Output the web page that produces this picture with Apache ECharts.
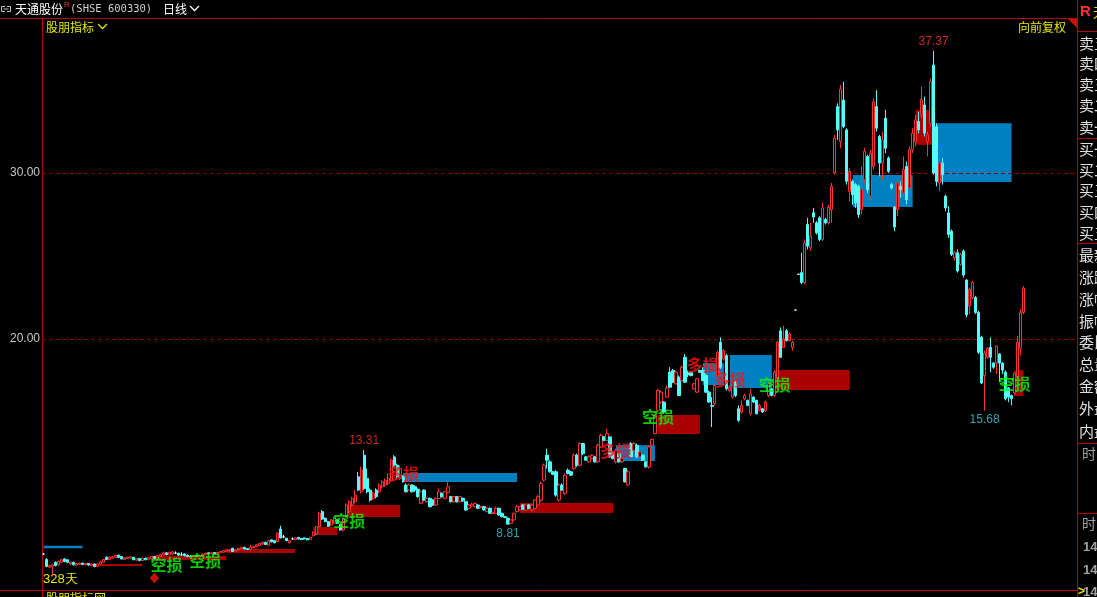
<!DOCTYPE html>
<html><head><meta charset="utf-8">
<script src="https://cdn.jsdelivr.net/npm/echarts@6/dist/echarts.min.js"></script>
<style>html,body{margin:0;padding:0;background:#000;overflow:hidden}#c{width:1097px;height:597px}</style>
</head><body><div id="c"></div>
<script>
// ---- data (open, close, low, high) ----
const candles = [
[7.05,7.05,7.0,7.1],[6.72,6.30,6.25,6.8],[6.25,6.35,6.2,6.4],[6.3,6.4,5.8,6.45],[6.55,6.35,6.3,6.6],
[6.4,6.6,6.35,6.65],[6.55,6.7,6.5,6.75],[6.75,6.6,6.55,6.8],[6.7,6.55,6.5,6.72],[6.45,6.55,6.4,6.6],
[6.55,6.4,6.35,6.58],[6.38,6.48,6.35,6.52],[6.42,6.5,6.4,6.55],[6.5,6.42,6.38,6.52],[6.4,6.48,6.36,6.5],
[6.48,6.38,6.35,6.5],[6.35,6.45,6.32,6.48],[6.45,6.3,6.25,6.47],[6.3,6.45,6.28,6.48],[6.45,6.58,6.42,6.62],
[6.55,6.72,6.5,6.75],[6.85,6.72,6.7,6.9],[6.72,6.86,6.7,6.9],[6.8,6.88,6.76,6.92],[6.85,6.95,6.82,7.0],
[6.98,6.85,6.82,7.0],[6.9,6.75,6.72,6.92],[6.72,6.82,6.7,6.85],[6.78,6.85,6.75,6.88],[6.8,6.88,6.78,6.92],
[6.85,6.7,6.68,6.88],[6.68,6.78,6.65,6.8],[6.78,6.65,6.62,6.8],[6.65,6.8,6.62,6.82],[6.8,6.7,6.68,6.83],
[6.7,6.82,6.68,6.85],[6.78,6.9,6.75,6.92],[6.9,6.78,6.75,6.93],[6.8,6.95,6.78,6.98],[6.9,7.0,6.88,7.05],
[6.98,7.12,6.95,7.2],[7.12,7.0,6.98,7.15],[7.0,7.15,6.98,7.18],[7.05,7.18,7.0,7.22],[7.1,7.1,7.05,7.2],
[7.1,6.98,6.95,7.12],[7.0,7.0,6.95,7.15],[7.05,6.95,6.9,7.08],[6.98,6.9,6.85,7.0],[6.92,6.88,6.85,6.98],
[6.9,6.95,6.85,6.98],[6.95,6.9,6.86,6.98],[6.9,6.96,6.87,7.0],[6.96,7.05,6.94,7.08],[7.0,7.1,6.98,7.12],
[7.12,7.05,7.02,7.15],[7.08,7.12,7.05,7.15],[7.14,7.06,7.03,7.16],[7.06,7.14,7.04,7.18],[7.12,7.2,7.1,7.22],
[7.15,7.25,7.12,7.3],[7.2,7.3,7.18,7.33],[7.25,7.3,7.2,7.35],[7.4,7.2,7.18,7.42],[7.22,7.3,7.2,7.35],
[7.3,7.38,7.25,7.42],[7.35,7.45,7.32,7.48],[7.45,7.35,7.32,7.48],[7.38,7.32,7.28,7.4],[7.3,7.45,7.28,7.6],
[7.42,7.5,7.4,7.55],[7.5,7.6,7.45,7.65],[7.55,7.68,7.52,7.72],[7.65,7.75,7.6,7.8],[7.75,7.62,7.58,7.78],
[7.58,7.85,7.55,7.9],[7.9,7.78,7.75,7.92],[7.85,7.72,7.7,7.88],[7.8,8.3,7.78,8.35],[8.55,8.02,7.98,8.75],
[8.08,8.08,8.0,8.2],[8.0,7.85,7.82,8.02],[7.72,7.85,7.68,7.88],[7.96,7.96,7.9,8.05],[7.9,8.02,7.88,8.05],
[8.05,7.95,7.92,8.08],[7.98,7.92,7.88,8.02],[8.02,7.95,7.9,8.05],[7.98,7.9,7.88,8.0],[7.92,8.05,7.9,8.08],
[8.15,8.35,8.1,8.4],[8.25,8.7,8.2,8.75],[8.7,9.5,8.65,9.6],[9.6,9.15,9.1,9.7],[9.2,9.0,8.95,9.25],
[9.0,8.72,8.68,9.05],[8.8,9.1,8.75,9.15],[8.9,9.2,8.85,9.3],[9.1,8.9,8.85,9.15],[8.82,8.5,8.45,8.85],
[8.5,9.2,8.4,9.25],[9.3,10.0,9.2,10.1],[9.6,10.2,9.5,10.3],[10.0,10.4,9.9,10.5],[10.2,10.6,10.1,10.9],
[11.7,10.9,10.85,12.0],[10.8,12.1,10.7,12.3],[13.0,11.0,10.9,13.31],[11.6,10.8,10.7,12.2],[10.9,10.3,10.2,11.0],
[10.4,10.7,10.3,10.8],[10.9,10.5,10.4,11.0],[10.8,11.2,10.7,11.3],[11.1,11.4,11.0,11.5],[11.2,11.5,11.1,11.6],
[11.3,11.6,11.2,11.9],[11.5,12.7,11.4,12.8],[12.9,12.4,12.3,13.0],[12.4,11.7,11.6,12.5],[11.6,12.2,11.5,12.4],
[11.75,11.4,11.35,11.8],[11.2,10.8,10.75,11.3],[10.9,11.2,10.85,11.3],[11.2,10.8,10.75,11.25],[11.1,10.9,10.8,11.2],
[10.95,10.5,10.45,11.0],[10.1,10.8,10.05,10.85],[10.9,10.3,10.25,10.95],[10.2,10.4,10.15,10.45],[10.4,9.9,9.85,10.45],
[10.3,10.0,9.95,10.35],[10.0,10.4,9.95,10.45],[10.4,10.8,10.35,11.0],[10.7,10.5,10.45,10.75],[10.4,10.8,10.35,10.85],
[10.75,11.1,10.7,11.4],[10.5,10.2,10.15,10.55],[10.2,10.5,10.15,10.55],[10.5,10.2,10.15,10.55],[10.2,10.5,10.15,10.55],
[10.4,10.25,10.2,10.45],[10.2,9.7,9.65,10.25],[9.8,10.0,9.75,10.05],[9.95,10.05,9.9,10.15],[9.9,10.1,9.85,10.15],
[10.0,9.8,9.75,10.05],[9.85,9.9,9.8,9.95],[9.9,9.7,9.65,9.95],[9.6,9.8,9.55,9.85],[9.8,9.5,9.45,9.85],
[9.5,9.55,9.45,9.6],[9.5,9.8,9.45,9.9],[9.8,9.4,9.35,9.85],[9.5,9.3,9.25,9.55],[9.3,9.25,9.2,9.35],
[9.2,8.85,8.81,9.25],[8.9,9.1,8.85,9.15],[9.1,9.5,9.05,9.55],[9.6,9.9,9.55,10.0],[9.7,9.9,9.65,9.95],
[10.0,9.75,9.7,10.05],[9.7,10.0,9.65,10.05],[10.0,9.8,9.75,10.05],[9.7,10.0,9.6,10.05],[9.8,10.3,9.75,10.35],
[10.0,10.5,9.95,10.6],[10.3,11.3,10.2,11.4],[11.5,12.4,11.4,12.5],[13.0,12.7,12.2,13.4],[12.6,12.0,11.95,12.7],
[12.0,11.85,11.8,12.05],[12.0,10.6,10.5,12.1],[10.3,11.2,10.2,11.3],[11.2,10.9,10.85,11.3],[10.7,11.8,10.6,11.9],
[12.1,11.9,11.85,12.2],[12.0,11.8,11.75,12.05],[12.2,13.0,12.1,13.1],[13.0,12.4,12.3,13.1],[12.4,13.7,12.35,13.8],
[13.7,13.1,13.0,13.75],[12.9,12.7,12.65,12.95],[12.6,12.9,12.55,13.0],[12.8,13.0,12.75,13.05],[12.9,12.6,12.55,12.95],
[12.6,13.6,12.55,13.7],[13.5,14.2,13.45,14.3],[14.1,13.9,13.85,14.15],[13.9,14.3,13.85,14.6],[14.1,12.9,12.85,14.15],
[13.2,12.8,12.75,13.25],[12.6,13.3,12.5,13.4],[13.1,12.6,12.55,13.15],[12.6,12.8,12.55,12.85],[12.2,11.4,11.35,12.25],
[11.2,12.0,11.15,12.1],[13.7,12.9,12.85,13.8],[13.3,13.7,13.25,13.8],[13.6,12.9,12.85,13.7],[12.9,13.2,12.85,13.25],
[13.0,12.7,12.65,13.05],[12.6,12.3,12.25,12.65],[12.3,13.5,12.2,13.6],[13.6,13.95,13.55,14.0],[14.3,15.4,14.25,15.5],
[15.7,16.9,15.6,17.0],[16.2,16.8,16.1,16.9],[16.2,15.6,15.5,16.25],[16.5,17.05,16.45,17.2],[18.0,17.1,17.05,18.3],
[18.1,17.4,17.35,18.2],[17.3,18.0,17.25,18.1],[17.7,16.6,16.55,17.8],[17.5,18.3,17.45,18.4],[18.9,17.4,17.35,19.1],
[18.0,17.85,17.7,18.1],[18.0,17.8,17.75,18.05],[17.0,17.3,16.95,17.35],[16.8,17.6,16.75,17.65],[18.1,18.0,17.95,18.15],
[18.1,17.5,17.45,18.3],[17.8,16.8,16.75,17.9],[16.8,16.2,16.15,16.9],[16.0,15.95,14.7,16.5],[16.1,17.2,16.0,17.3],
[17.8,19.2,17.7,19.3],[19.8,18.3,18.2,20.1],[18.8,19.3,18.7,19.4],[19.0,17.0,16.9,19.1],[16.9,17.1,16.8,17.2],
[16.5,17.3,16.4,17.4],[17.4,16.6,16.5,17.5],[15.8,15.1,15.0,16.0],[15.6,16.0,15.5,16.3],[16.4,16.6,16.3,16.7],
[16.3,16.0,15.95,16.35],[15.5,16.7,15.4,17.0],[16.5,16.2,16.15,16.55],[16.3,15.5,15.45,16.35],[15.7,16.0,15.65,16.1],
[15.8,15.6,15.55,15.85],[15.7,16.2,15.6,16.3],[16.6,17.3,16.5,17.4],[17.0,16.6,16.55,17.05],[16.6,18.0,16.5,18.1],
[17.6,19.8,17.5,19.9],[20.5,18.9,18.85,20.7],[19.5,20.0,19.45,20.8],[20.5,19.9,19.85,20.6],[19.9,20.3,19.85,20.4],
[19.5,19.8,19.3,19.9],[21.75,21.75,21.75,21.75],[23.9,23.9,23.9,23.9],[24.0,23.4,23.3,25.2],[23.4,25.8,23.3,26.0],
[26.9,25.6,25.4,27.3],[25.5,26.2,25.3,27.0],[27.6,27.35,27.0,27.9],[27.0,26.4,26.3,27.1],[27.3,26.0,25.9,27.4],
[26.0,27.9,25.9,28.2],[27.2,27.0,26.9,27.3],[27.0,27.95,26.9,28.1],[27.8,29.2,27.0,29.4],[30.0,32.1,29.9,32.3],
[34.0,32.6,32.0,34.2],[31.9,35.06,31.5,35.3],[34.4,32.8,32.7,35.5],[32.6,29.5,29.3,32.7],[28.9,30.1,28.3,30.3],
[29.5,28.7,28.1,29.6],[29.3,28.2,27.9,29.4],[29.2,27.5,27.3,29.3],[27.8,29.0,27.5,30.4],[29.6,31.3,29.4,31.5],
[31.0,29.0,28.8,31.1],[28.6,31.2,28.5,31.4],[30.4,34.3,30.2,34.5],[34.0,32.7,32.5,35.0],[32.2,30.6,29.8,32.3],
[30.6,32.0,29.6,32.5],[33.3,31.5,31.2,33.8],[30.9,30.1,30.0,31.0],[29.3,29.1,29.0,29.4],[27.95,26.75,26.5,28.0],
[27.8,29.4,27.4,29.5],[29.2,29.0,28.5,29.5],[28.8,30.2,28.5,31.0],[30.4,28.4,28.1,30.7],[29.1,31.4,28.6,31.6],
[31.4,32.4,31.2,32.7],[31.9,33.2,31.6,33.5],[33.1,32.6,32.4,33.7],[33.5,34.45,33.3,35.2],[34.1,32.4,32.2,34.6],
[31.9,32.3,31.0,32.5],[33.0,35.5,32.8,35.7],[36.5,30.0,29.9,37.37],[32.8,29.5,29.2,33.0],[29.4,30.6,28.9,31.4],
[30.6,29.9,29.3,30.9],[28.6,27.9,27.7,28.7],[27.6,26.3,26.1,28.0],[26.5,25.1,25.0,26.6],[24.9,25.2,24.7,25.3],
[25.2,24.1,24.0,25.4],[24.5,25.1,24.4,25.2],[25.3,23.85,23.7,25.4],[23.55,21.45,21.3,23.6],[22.0,23.0,21.5,23.1],
[22.5,23.4,22.4,23.5],[22.5,21.6,21.5,22.6],[21.6,19.2,19.1,21.7],[20.1,17.35,17.3,20.2],[17.8,19.15,15.68,19.3],
[18.9,19.45,18.8,19.5],[19.5,18.9,18.0,20.1],[18.55,18.3,18.2,18.6],[18.55,19.58,17.9,19.6],[19.1,18.55,17.4,19.15],
[18.55,18.13,17.9,18.6],[18.0,16.4,16.3,18.1],[17.05,16.5,16.2,17.1],[16.6,16.4,16.0,16.65],[16.75,17.95,16.6,18.0],
[17.7,19.8,17.6,20.2],[19.45,21.6,19.0,21.8],[21.6,23.07,21.5,23.2]
];
// boxes: [startIndex, endIndex, low, high]
const longBoxes = [[0,13,7.40,7.55],[120,158,11.39,11.93],[191,204,12.65,13.6],[220,227,17.23,18.55],[229,243,17.05,19.04],[270,290,27.95,29.88],[298,323,29.46,33.0]];
const shortBoxes = [[17,33,6.33,6.45],[36,61,6.69,6.93],[61,84,7.11,7.35],[90,98,8.19,8.67],[101,119,9.28,10.0],[159,190,9.52,10.12],[205,219,14.28,15.42],[244,269,16.93,18.13],[291,297,31.7,33.8],[324,327,16.57,18.13]];
// signal tags: [index, price]
const longStopTags = [[120,11.87],[191,13.25],[220,18.43],[229,17.53]];
const shortStopTags = [[41,6.39],[54,6.63],[102,9.04],[205,15.31],[244,17.23],[324,17.29]];
// extremes: [index, value, kind]
const extremes = [[107,13.31,'hi'],[155,8.81,'lo'],[297,37.37,'hi'],[314,15.68,'lo']];
const signalMarks = [[37,5.6]];
const yTicks = [20,30];
const yRange = [4.88,39.34];
const totalSlots = 345;
const sellRows = ['卖五','卖四','卖三','卖二','卖一'];
const buyRows = ['买一','买二','买三','买四','买五'];
const infoRows = ['最新','涨跌','涨幅','振幅','委比','总量','金额','外盘','内盘'];

// ---- build ----
const slots = Array.from({length: totalSlots}, (_, i) => 'd' + i);
const UP = '#ff3232', DN = '#54fcfc', BLUE = '#0080c0', DRED = '#aa0000', LINE = '#c00000', YEL = '#e6e600';
const kData = candles.map(c => c[0] === c[1]
  ? {value: c, itemStyle: {color: '#fff', color0: '#fff', borderColor: '#fff', borderColor0: '#fff', borderColorDoji: '#fff'}}
  : c);
const areas = [];
longBoxes.forEach(b => areas.push([{xAxis: slots[b[0]], yAxis: b[2], itemStyle: {color: BLUE, opacity: 1}}, {xAxis: slots[b[1]], yAxis: b[3]}]));
shortBoxes.forEach(b => areas.push([{xAxis: slots[b[0]], yAxis: b[2], itemStyle: {color: DRED, opacity: 1}}, {xAxis: slots[b[1]], yAxis: b[3]}]));

function tagSeries(list, text, color) {
  return {type: 'scatter', z: 8, silent: true, symbolSize: 0, data: list,
    label: {show: true, position: 'inside', formatter: text, color: color, fontSize: 16,
      fontFamily: 'Noto Sans CJK SC', fontWeight: 'bold'}};
}

const panelTexts = [];
function ptext(t, x, y, fill, font, align) {
  panelTexts.push({type: 'text', x: x, y: y, silent: true,
    style: {text: t, fill: fill, font: font, textAlign: align || 'left', align: align || 'left', textVerticalAlign: 'middle', verticalAlign: 'middle'}});
}
const sellY = [43,63,84,105,127], buyY = [149,170,190,212,233], infoY = [255,277,299,321,342,364,386,408,431];
sellRows.forEach((t, k) => ptext(t, 1079, sellY[k], '#e0e0e0', '15px "Noto Sans CJK SC"'));
buyRows.forEach((t, k) => ptext(t, 1079, buyY[k], '#e0e0e0', '15px "Noto Sans CJK SC"'));
infoRows.forEach((t, k) => ptext(t, 1079, infoY[k], '#e0e0e0', '15px "Noto Sans CJK SC"'));
ptext('R', 1080, 12, UP, 'bold 15px "Liberation Sans"');
ptext('天', 1093, 12, YEL, '13px "Noto Sans CJK SC"');
ptext('时间', 1082, 454, '#a0a0a0', '14px "Noto Sans CJK SC"');
ptext('时间', 1082, 524, '#a0a0a0', '14px "Noto Sans CJK SC"');
[547,570,592].forEach(y => ptext('14:59', 1083, y, '#a0a0a0', 'bold 13px "Liberation Sans"'));
ptext('>', 1078, 592, YEL, 'bold 12px "Liberation Sans"');
// header
ptext('天通股份', 15, 9, '#ffffff', '12px "Noto Sans CJK SC"');
ptext('R', 64, 5, UP, '8px "Liberation Sans"');
ptext('(SHSE 600330)', 70, 9, '#d0d0d0', '10.5px "DejaVu Sans Mono"');
ptext('日线', 163, 9, '#ffffff', '12px "Noto Sans CJK SC"');
ptext('股朋指标', 46, 27, YEL, '12px "Noto Sans CJK SC"');
ptext('向前复权', 1066, 27, YEL, '12px "Noto Sans CJK SC"', 'right');
ptext(candles.length + '天', 43, 579, YEL, '13px "Liberation Sans"');
ptext('股朋指标网', 46, 598, YEL, '12px "Noto Sans CJK SC"');

function hline(x1, x2, y) { return {type: 'line', silent: true, shape: {x1: x1, y1: y, x2: x2, y2: y}, style: {stroke: LINE, lineWidth: 1}}; }
function vline(x, y1, y2) { return {type: 'line', silent: true, shape: {x1: x, y1: y1, x2: x, y2: y2}, style: {stroke: LINE, lineWidth: 1}}; }
const frame = [
  hline(0, 1077, 18.5), hline(0, 1077, 590.5), vline(42.5, 18, 597), vline(1077.5, 0, 597),
  hline(1077, 1097, 31.5), hline(1077, 1097, 138.5), hline(1077, 1097, 243.5), hline(1077, 1097, 443.5), hline(1077, 1097, 513.5),
  {type: 'polygon', silent: true, shape: {points: [[1068, 19], [1077, 19], [1077, 28]]}, style: {fill: '#cc1010'}},
  {type: 'polyline', silent: true, shape: {points: [[190, 6], [194.5, 10.5], [199, 6]]}, style: {stroke: '#ffffff', lineWidth: 1.3, fill: null}},
  {type: 'polyline', silent: true, shape: {points: [[98, 24], [102.5, 28.5], [107, 24]]}, style: {stroke: YEL, lineWidth: 1.3, fill: null}},
  {type: 'polyline', silent: true, shape: {points: [[5, 6.5], [1.5, 6.5], [1.5, 11.5], [5, 11.5]]}, style: {stroke: '#c0c0c0', lineWidth: 1, fill: null}},
  {type: 'polyline', silent: true, shape: {points: [[7, 6.5], [10.5, 6.5], [10.5, 11.5], [7, 11.5]]}, style: {stroke: '#c0c0c0', lineWidth: 1, fill: null}},
  {type: 'line', silent: true, shape: {x1: 3.5, y1: 9, x2: 8.5, y2: 9}, style: {stroke: '#c0c0c0', lineWidth: 1}}
];

const chart = echarts.init(document.getElementById('c'), null, {renderer: 'canvas'});
chart.setOption({
  backgroundColor: '#000',
  animation: false,
  grid: {left: 42, right: 21, top: 18, bottom: 7, show: false},
  xAxis: {type: 'category', data: slots, boundaryGap: true, show: false},
  yAxis: {type: 'value', min: yRange[0], max: yRange[1], show: false, splitLine: {show: false}},
  series: [
    {type: 'line', data: [], z: 1, silent: true,
      markArea: {silent: true, data: areas},
      markLine: {silent: true, symbol: ['none', 'none'],
        lineStyle: {color: '#8a0000', type: [4, 3], width: 1},
        label: {show: true, position: 'start', distance: 2, color: '#c8c8c8', fontSize: 12, fontFamily: 'Liberation Sans',
          formatter: p => Number(p.value).toFixed(2)},
        data: yTicks.map(v => ({yAxis: v}))}},
    {type: 'candlestick', z: 5, data: kData, barWidth: 2.8,
      itemStyle: {color: '#000', color0: DN, borderColor: UP, borderColor0: DN, borderWidth: 1}},
    tagSeries(shortStopTags, '空损', '#00ff00'),
    tagSeries(longStopTags, '多损', '#ff1010'),
    {type: 'scatter', z: 9, silent: true, symbolSize: 0,
      data: extremes.map(e => ({value: [e[0], e[1]], label: {position: e[2] === 'hi' ? 'top' : 'bottom', color: e[2] === 'hi' ? UP : '#3cc8e0'}})),
      label: {show: true, distance: 3, fontSize: 12, fontFamily: 'Liberation Sans', formatter: p => p.value[1].toFixed(2)}},
    {type: 'scatter', z: 9, silent: true, symbol: 'diamond', symbolSize: [9, 11], itemStyle: {color: '#ff1010'}, data: signalMarks}
  ],
  graphic: frame.concat(panelTexts)
});
</script>
</body></html>
